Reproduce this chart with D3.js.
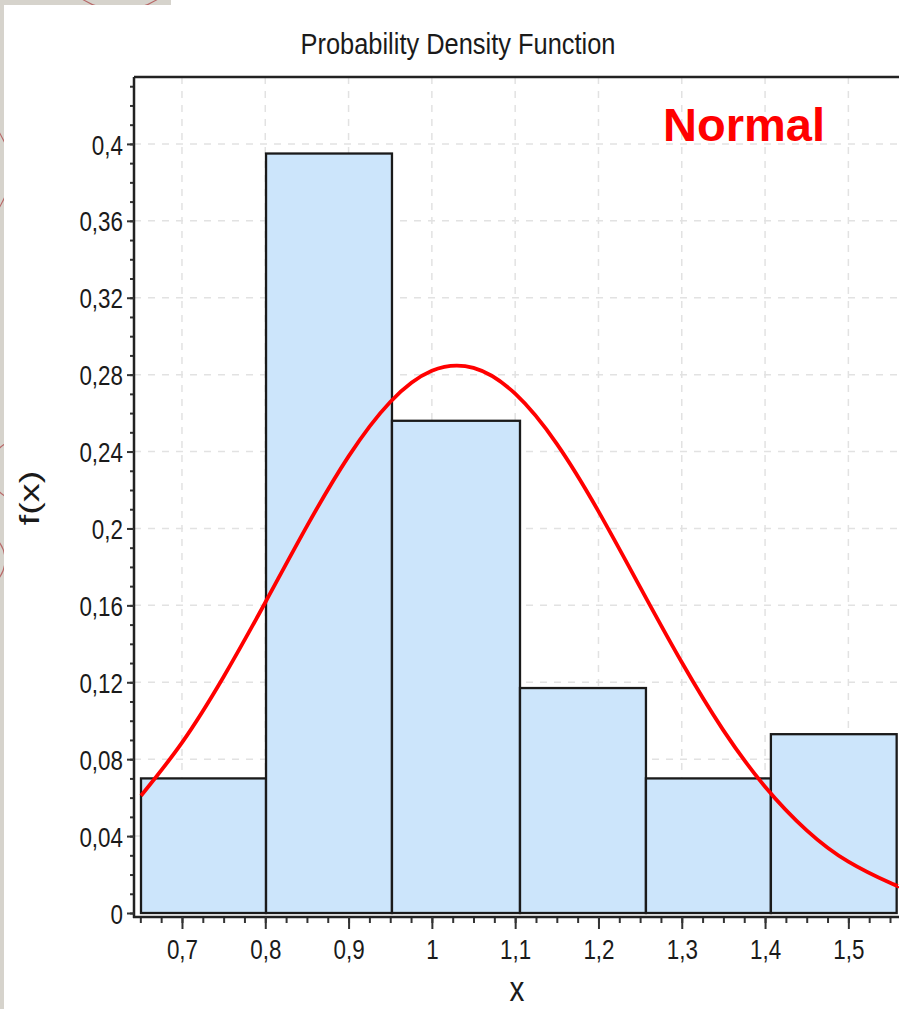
<!DOCTYPE html>
<html>
<head>
<meta charset="utf-8">
<script src="https://cdn.jsdelivr.net/npm/d3@7"></script>
<style>
  html, body { margin: 0; padding: 0; background: #fff; }
  svg { display: block; }
</style>
</head>
<body>
<script>
// ---- data ----
const binEdges = [0.6508, 0.8009, 0.9521, 1.1058, 1.2570, 1.4070, 1.5580];
const binValues = [0.070, 0.395, 0.256, 0.117, 0.070, 0.093];
const curveX = [0.6508, 0.70, 0.75, 0.80, 0.85, 0.90, 0.95, 1.00, 1.05, 1.10, 1.15, 1.20, 1.25, 1.30, 1.35, 1.40, 1.45, 1.50, 1.55, 1.5608];
const curveY = [0.0610, 0.0886, 0.1229, 0.1615, 0.2012, 0.2375, 0.2658, 0.2820, 0.2835, 0.2701, 0.2440, 0.2089, 0.1695, 0.1304, 0.0950, 0.0657, 0.0430, 0.0267, 0.0157, 0.0139];
const xTickValues = [0.7, 0.8, 0.9, 1.0, 1.1, 1.2, 1.3, 1.4, 1.5];
const yTickValues = [0, 0.04, 0.08, 0.12, 0.16, 0.2, 0.24, 0.28, 0.32, 0.36, 0.4];
const titleText = "Probability Density Function";
const xLabel = "x";
const yLabel = "f(x)";
const legendText = "Normal";

const W = 899, H = 1009;
const svg = d3.select("body").append("svg").attr("width", W).attr("height", H);

// background decoration (slide edge)
svg.append("rect").attr("x", 0).attr("y", 0).attr("width", W).attr("height", H).attr("fill", "#fff");
const grey = svg.append("g");
grey.append("rect").attr("x", 0).attr("y", 0).attr("width", 171).attr("height", 5).attr("fill", "#d6d3cc");
grey.append("rect").attr("x", 0).attr("y", 0).attr("width", 4).attr("height", H).attr("fill", "#d6d3cc");
const clip = svg.append("defs").append("clipPath").attr("id", "greyclip");
clip.append("rect").attr("x", 0).attr("y", 0).attr("width", 171).attr("height", 5);
clip.append("rect").attr("x", 0).attr("y", 0).attr("width", 4).attr("height", H);
const arcs = svg.append("g").attr("clip-path", "url(#greyclip)");
[[120, -60, 70], [-60, 170, 70], [20, 470, 30], [-25, 560, 30]].forEach(c => {
  arcs.append("circle").attr("cx", c[0]).attr("cy", c[1]).attr("r", c[2])
    .attr("fill", "none").attr("stroke", "#b86a6a").attr("stroke-width", 1.2);
});

// scales
const x = d3.scaleLinear().domain([0.6424, 1.5656]).range([134, 903]);
const y = d3.scaleLinear().domain([0, 0.4348]).range([913, 77]);

const plotLeft = 134, plotTop = 77, plotRight = 903, axisY = 917;

// grid
const grid = svg.append("g");
grid.selectAll("line.vx").data(xTickValues).join("line")
  .attr("x1", d => x(d)).attr("x2", d => x(d))
  .attr("y1", plotTop).attr("y2", axisY)
  .attr("stroke", "#e2e2e2").attr("stroke-width", 1.5).attr("stroke-dasharray", "7,7");
grid.selectAll("line.hy").data(yTickValues.filter(d => d > 0)).join("line")
  .attr("x1", plotLeft).attr("x2", plotRight)
  .attr("y1", d => y(d)).attr("y2", d => y(d))
  .attr("stroke", "#e2e2e2").attr("stroke-width", 1.5).attr("stroke-dasharray", "7,7");

// bars
const bins = binValues.map((v, i) => ({x0: binEdges[i], x1: binEdges[i + 1], v}));
svg.append("g").selectAll("rect").data(bins).join("rect")
  .attr("x", d => x(d.x0)).attr("width", d => x(d.x1) - x(d.x0))
  .attr("y", d => y(d.v)).attr("height", d => y(0) - y(d.v))
  .attr("fill", "#cce5fb").attr("stroke", "#1a1a1a").attr("stroke-width", 2.3);

// curve
const pts = curveX.map((v, i) => [v, curveY[i]]);
svg.append("path").datum(pts)
  .attr("d", d3.line().x(d => x(d[0])).y(d => y(d[1])).curve(d3.curveNatural))
  .attr("fill", "none").attr("stroke", "#ff0000").attr("stroke-width", 3.8);

// frame: top border
svg.append("line").attr("x1", plotLeft).attr("x2", W).attr("y1", plotTop).attr("y2", plotTop)
  .attr("stroke", "#222").attr("stroke-width", 2.5);

const tickFont = "'Liberation Sans', Arial, sans-serif";
const fmt = d => d3.format("~g")(d).replace(".", ",");
function narrow(sel, f) {
  sel.each(function () {
    const len = this.getComputedTextLength();
    d3.select(this).attr("textLength", len * f).attr("lengthAdjust", "spacingAndGlyphs");
  });
}

// y axis
const yAxis = svg.append("g").attr("transform", `translate(${plotLeft},0)`);
yAxis.call(d3.axisLeft(y).tickValues(d3.range(0, 0.435, 0.01)).tickSize(4).tickFormat(""));
yAxis.call(g => g.select(".domain").remove());
yAxis.append("line").attr("x1", 0).attr("x2", 0).attr("y1", plotTop).attr("y2", axisY + 1)
  .attr("stroke", "#222").attr("stroke-width", 2.5);
yAxis.selectAll(".tick line").attr("stroke", "#333").attr("stroke-width", 2);
const yMajor = svg.append("g").attr("transform", `translate(${plotLeft},0)`)
  .call(d3.axisLeft(y).tickValues(yTickValues).tickSize(7).tickPadding(4).tickFormat(fmt));
yMajor.select(".domain").remove();
yMajor.selectAll(".tick line").attr("stroke", "#333").attr("stroke-width", 2);
yMajor.selectAll(".tick text").attr("font-family", tickFont).attr("font-size", 28)
  .attr("fill", "#1a1a1a").attr("dy", "0.36em").call(narrow, 0.8);

// x axis
const xAxis = svg.append("g").attr("transform", `translate(0,${axisY})`);
xAxis.call(d3.axisBottom(x).tickValues(d3.range(0, 37).map(i => 0.65 + i * 0.025)).tickSize(6).tickFormat(""));
xAxis.select(".domain").remove();
xAxis.selectAll(".tick line").attr("stroke", "#333").attr("stroke-width", 2);
xAxis.append("line").attr("x1", plotLeft - 1).attr("x2", W).attr("y1", 0).attr("y2", 0)
  .attr("stroke", "#222").attr("stroke-width", 2.5);
const xMajor = svg.append("g").attr("transform", `translate(0,${axisY})`)
  .call(d3.axisBottom(x).tickValues(xTickValues).tickSize(12).tickPadding(10).tickFormat(fmt));
xMajor.select(".domain").remove();
xMajor.selectAll(".tick line").attr("stroke", "#333").attr("stroke-width", 2);
xMajor.selectAll(".tick text").attr("font-family", tickFont).attr("font-size", 28)
  .attr("fill", "#1a1a1a").call(narrow, 0.8);

// title
svg.append("text").attr("x", 458).attr("y", 54).attr("text-anchor", "middle")
  .attr("font-family", tickFont).attr("font-size", 30).attr("fill", "#1a1a1a").text(titleText)
  .attr("textLength", 315).attr("lengthAdjust", "spacingAndGlyphs");

// legend text
svg.append("text").attr("x", 744).attr("y", 141).attr("text-anchor", "middle")
  .attr("font-family", "'Liberation Sans', Arial, sans-serif").attr("font-weight", "bold")
  .attr("font-size", 47).attr("fill", "#ff0000").text(legendText);

// axis labels
svg.append("text").attr("x", 517).attr("y", 1001).attr("text-anchor", "middle")
  .attr("font-family", tickFont).attr("font-size", 35).attr("fill", "#1a1a1a").text(xLabel)
  .call(narrow, 0.85);
svg.append("text").attr("transform", "translate(39,498) rotate(-90) scale(1.35,1)")
  .attr("text-anchor", "middle")
  .attr("font-family", "'Liberation Sans', Arial, sans-serif").attr("font-size", 28)
  .attr("fill", "#1a1a1a").text(yLabel);
</script>
</body>
</html>
